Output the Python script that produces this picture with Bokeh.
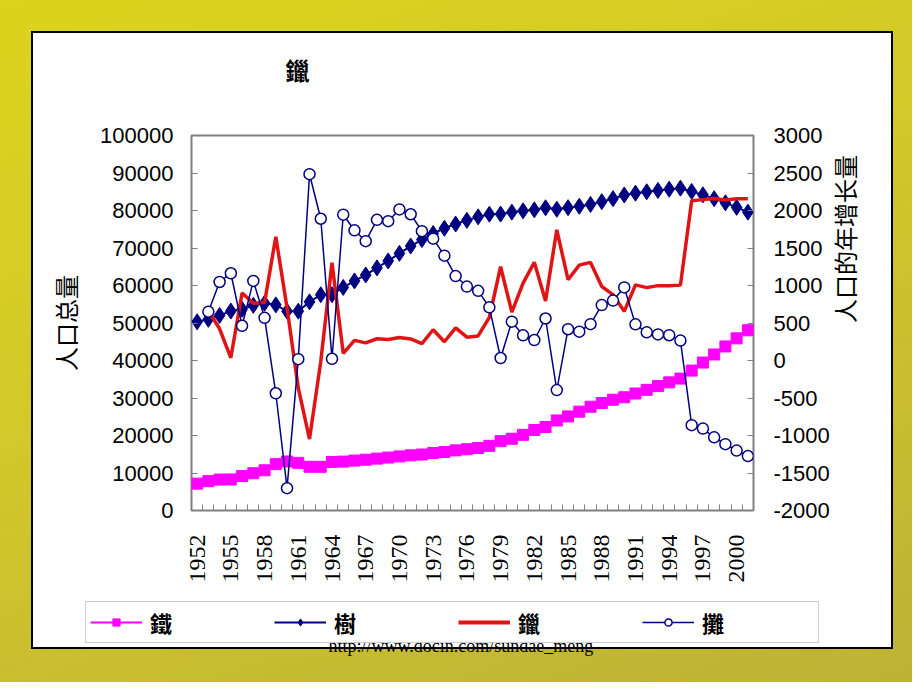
import math
from bokeh.plotting import figure
from bokeh.layouts import column
from bokeh.models import (Range1d, LinearAxis, FixedTicker, Legend, LegendItem,
                          Label, NumeralTickFormatter)
from bokeh.embed import file_html
from bokeh.resources import INLINE

# ---------------- data ----------------
years = list(range(1952, 2002))
label_years = list(range(1952, 2001, 3))

urban = [7163, 7826, 8249, 8285, 9185, 9949, 10721, 12371, 13073, 12707,
         11659, 11646, 12950, 13045, 13313, 13548, 13838, 14117, 14424, 14711,
         14935, 15345, 15595, 16030, 16341, 16669, 17245, 18495, 19140, 20171,
         21480, 22274, 24017, 25094, 26366, 27674, 28661, 29540, 30195, 31203,
         32175, 33173, 34169, 35174, 37304, 39449, 41608, 43748, 45906, 48064]

rural = [50319, 50970, 52017, 53180, 53643, 54704, 55273, 54836, 53134, 53152,
         55636, 57526, 57549, 59493, 61229, 62820, 64696, 66554, 68568, 70518,
         72242, 73866, 75264, 76390, 77376, 78305, 79014, 79047, 79565, 79901,
         80174, 80734, 80340, 80757, 81141, 81626, 82365, 83164, 84138, 84620,
         84996, 85344, 85681, 85947, 85085, 84177, 83153, 82038, 80837, 79563]

inc_years = years[1:]
urban_inc = [663, 423, 36, 900, 764, 772, 1650, 702, -366, -1048,
             -13, 1304, 95, 268, 235, 290, 279, 307, 287, 224,
             410, 250, 435, 311, 328, 576, 1250, 645, 1031, 1309,
             794, 1743, 1077, 1272, 1308, 987, 879, 655, 1008, 972,
             998, 996, 1005, 2130, 2145, 2159, 2140, 2158, 2158]

rural_inc = [651, 1047, 1163, 463, 1061, 569, -437, -1702, 18, 2484,
             1890, 23, 1944, 1736, 1591, 1876, 1858, 2014, 1950, 1724,
             1624, 1398, 1126, 986, 929, 709, 33, 518, 336, 273,
             560, -394, 417, 384, 485, 739, 799, 974, 482, 376,
             348, 337, 266, -862, -908, -1024, -1115, -1201, -1274]

left_ticks = list(range(0, 100001, 10000))
right_ticks = list(range(-2000, 3001, 500))

title_text = "鑞"
series_names = ["鐵", "樹", "鑞", "攤"]
left_label = "人口总量"
right_label = "人口的年增长量"
url_text = "http://www.docin.com/sundae_meng"

W = 912
H1 = 596
H2 = 86

magenta = "#ff00ff"
navy = "#000080"
red = "#e01414"


def no_frame_align(fig):
    try:
        fig.frame_align = False
    except Exception:
        pass


# ---------------- main chart ----------------
p = figure(width=W, height=H1, output_backend="svg", toolbar_location=None,
           x_range=Range1d(1951.5, 2001.5), y_range=Range1d(0, 100000),
           min_border_left=191, min_border_right=W - 753,
           min_border_top=135, min_border_bottom=H1 - 510,
           border_fill_color=None, background_fill_color="white",
           outline_line_color="#808080", outline_line_width=2)
no_frame_align(p)
p.grid.visible = False
p.extra_y_ranges = {"r": Range1d(-2000, 3000)}

p.title.text = title_text
p.title.align = "left"
p.title.offset = 94
p.title.standoff = 97
p.title.text_font = "Noto Sans CJK SC"
p.title.text_font_size = "24px"
p.title.text_font_style = "bold"
p.title.text_color = "black"

xa = p.xaxis[0]
xa.ticker = FixedTicker(ticks=label_years,
                        minor_ticks=[y - 0.5 for y in years] + [years[-1] + 0.5])
xa.major_label_orientation = math.pi / 2
xa.major_label_text_font = "'Liberation Serif'"
xa.major_label_text_font_size = "24px"
xa.major_label_text_color = "black"
xa.major_tick_in = 0
xa.major_tick_out = 0
xa.minor_tick_in = 6
xa.minor_tick_out = 0
xa.minor_tick_line_color = "#808080"
xa.axis_line_color = None
xa.major_label_standoff = 24

ya = p.yaxis[0]
ya.ticker = FixedTicker(ticks=left_ticks)
ya.formatter = NumeralTickFormatter(format="0")
ya.major_label_text_font = "'Liberation Sans'"
ya.major_label_text_font_size = "22px"
ya.major_label_text_color = "black"
ya.major_tick_in = 6
ya.major_tick_out = 0
ya.major_tick_line_color = "#808080"
ya.minor_tick_line_color = None
ya.axis_line_color = None
ya.major_label_standoff = 18
ya.axis_label = left_label
ya.axis_label_text_font = "'Noto Sans CJK SC'"
ya.axis_label_text_font_size = "24px"
ya.axis_label_text_font_style = "normal"
ya.axis_label_text_color = "black"
ya.axis_label_standoff = 14

ra = LinearAxis(y_range_name="r", ticker=FixedTicker(ticks=right_ticks),
                formatter=NumeralTickFormatter(format="0"))
ra.major_label_text_font = "'Liberation Sans'"
ra.major_label_text_font_size = "22px"
ra.major_label_text_color = "black"
ra.major_tick_in = 6
ra.major_tick_out = 0
ra.major_tick_line_color = "#808080"
ra.minor_tick_line_color = None
ra.axis_line_color = None
ra.major_label_standoff = 20
ra.axis_label = right_label
ra.axis_label_orientation = math.pi / 2
ra.axis_label_text_font = "'Noto Sans CJK SC'"
ra.axis_label_text_font_size = "24px"
ra.axis_label_text_font_style = "normal"
ra.axis_label_text_color = "black"
ra.axis_label_standoff = 12
p.add_layout(ra, "right")

p.line(years, urban, line_color=magenta, line_width=2)
p.scatter(years, urban, marker="square", size=11, fill_color=magenta, line_color=magenta)
p.line(years, rural, line_color=navy, line_width=2)
p.scatter(years, rural, marker="diamond", size=16, fill_color=navy, line_color=navy)
p.line(inc_years, urban_inc, line_color=red, line_width=3.5, y_range_name="r")
p.line(inc_years, rural_inc, line_color=navy, line_width=1.5, y_range_name="r")
p.scatter(inc_years, rural_inc, marker="circle", size=11, fill_color="white",
          line_color=navy, line_width=1.5, y_range_name="r")

# ---------------- legend strip ----------------
# the series are drawn again here only as legend proxies: the ranges keep them out of view
q = figure(width=W, height=H2, output_backend="svg", toolbar_location=None,
           x_range=Range1d(0, 1), y_range=Range1d(-1e9, -1e9 + 1),
           x_axis_type=None, y_axis_type=None, min_border=0,
           min_border_left=0, min_border_right=0, min_border_top=0, min_border_bottom=0,
           border_fill_color=None, background_fill_color=None,
           outline_line_color=None)
no_frame_align(q)
q.grid.visible = False
l1 = q.line(years, urban, line_color=magenta, line_width=2)
m1 = q.scatter(years, urban, marker="square", size=12, fill_color=magenta, line_color=magenta)
l2 = q.line(years, rural, line_color=navy, line_width=2)
m2 = q.scatter(years, rural, marker="diamond", size=15, fill_color=navy, line_color=navy)
l3 = q.line(inc_years, urban_inc, line_color=red, line_width=4)
l4 = q.line(inc_years, rural_inc, line_color=navy, line_width=1.5)
m4 = q.scatter(inc_years, rural_inc, marker="circle", size=9, fill_color="white",
               line_color=navy, line_width=1.5)

legend = Legend(items=[LegendItem(label=series_names[0], renderers=[l1, m1]),
                       LegendItem(label=series_names[1], renderers=[l2, m2]),
                       LegendItem(label=series_names[2], renderers=[l3]),
                       LegendItem(label=series_names[3], renderers=[l4, m4])],
                orientation="horizontal", location=(85, H2 - (643 - H1)),
                glyph_width=52, glyph_height=18, label_width=112,
                label_standoff=8, spacing=12, padding=4, margin=0,
                label_text_font="'Noto Sans CJK SC'", label_text_font_size="22px",
                label_text_font_style="bold", label_text_color="black",
                border_line_color="#999999", border_line_width=1,
                background_fill_color="white", background_fill_alpha=1.0)
q.add_layout(legend, "center")

q.add_layout(Label(x=328, y=H2 - (645 - H1), x_units="screen", y_units="screen",
                   text=url_text, text_font="'Liberation Serif'",
                   text_font_size="18px", text_align="left",
                   text_baseline="middle", text_color="black"))

page = column(p, q, spacing=0)
page.styles = {
    "background-image": ("linear-gradient(#ffffff,#ffffff), "
                         "linear-gradient(#000000,#000000), "
                         "linear-gradient(160deg, #ddd31c 0%, #d2c82a 45%, #bcb236 100%)"),
    "background-size": "858px 614px, 862px 618px, 100% 100%",
    "background-position": "33px 33px, 31px 31px, 0px 0px",
    "background-repeat": "no-repeat",
}

open("out.html", "w").write(file_html(page, INLINE))
